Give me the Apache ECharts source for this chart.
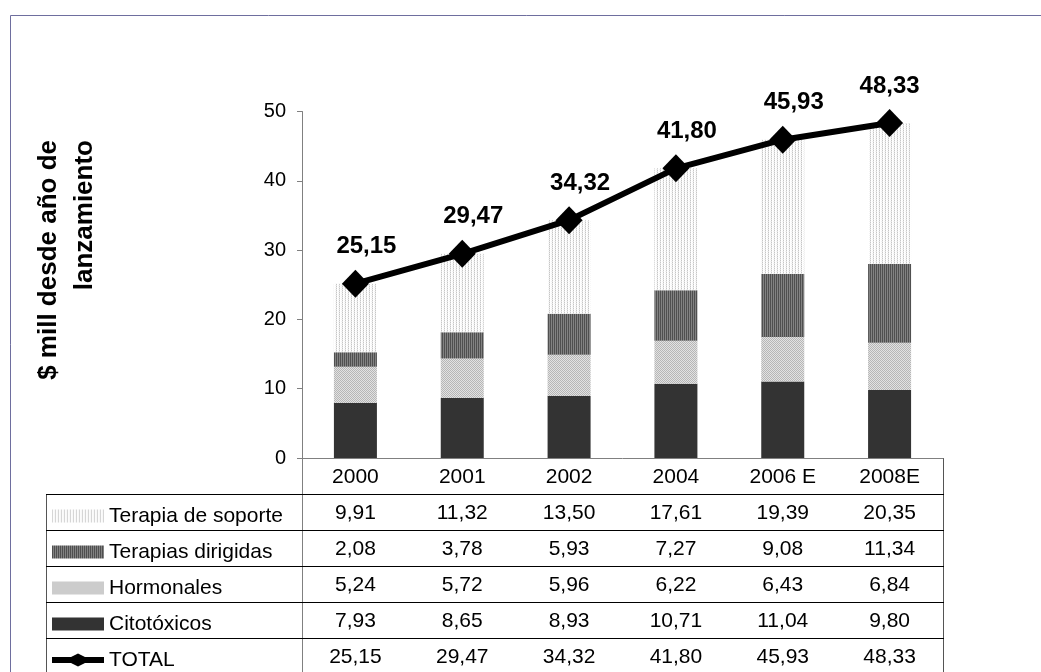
<!DOCTYPE html>
<html><head><meta charset="utf-8">
<script src="https://cdn.jsdelivr.net/npm/echarts@6/dist/echarts.min.js"></script>
<style>html,body{margin:0;padding:0;background:#fff}#c{width:1041px;height:672px}</style>
</head><body><div id="c"></div>
<script>
const categories = ['2000', '2001', '2002', '2004', '2006 E', '2008E'];
const soporte = [9.91, 11.32, 13.50, 17.61, 19.39, 20.35];
const dirigidas = [2.08, 3.78, 5.93, 7.27, 9.08, 11.34];
const hormonales = [5.24, 5.72, 5.96, 6.22, 6.43, 6.84];
const citotoxicos = [7.93, 8.65, 8.93, 10.71, 11.04, 9.80];
const total = [25.15, 29.47, 34.32, 41.80, 45.93, 48.33];
const seriesNames = ['Terapia de soporte', 'Terapias dirigidas', 'Hormonales', 'Citotóxicos', 'TOTAL'];
const yTickLabels = ['0', '10', '20', '30', '40', '50'];

const FONT = 'Liberation Sans, Arial, sans-serif';
const fmt = v => v.toFixed(2).replace('.', ',');

function pattern(w, h, bg, px) {
  const c = document.createElement('canvas');
  c.width = w; c.height = h;
  const g = c.getContext('2d');
  g.fillStyle = bg; g.fillRect(0, 0, w, h);
  px.forEach(p => { g.fillStyle = p[2]; g.fillRect(p[0], p[1], 1, 1); });
  return { image: c, repeat: 'repeat' };
}
const pSoporte = pattern(3, 2, '#ffffff', [[0, 0, '#c6c6c6'], [0, 1, '#e6e6e6'], [2, 1, '#f2f2f2']]);
const pDirigidas = pattern(2, 1, '#4f4f4f', [[1, 0, '#828282']]);
const pHormonales = pattern(2, 2, '#b6b6b6', [[1, 0, '#e2e2e2'], [0, 1, '#e2e2e2']]);
const cCito = '#333333';

const tableRows = [soporte, dirigidas, hormonales, citotoxicos, total];

const gridL = 302, gridR = 98, gridT = 111.5, gridB = 214;
const W = 1041, H = 672;
const axisY = H - gridB, rightX = W - gridR, rowH = 36, legendL = 46;
const TFS = 21;

const chart = echarts.init(document.getElementById('c'), null, { renderer: 'canvas' });

const extraX = tableRows.map((row, i) => ({
  type: 'category', gridIndex: 0, position: 'bottom', data: categories,
  offset: rowH * (i + 1),
  axisLine: { show: false }, axisTick: { show: false },
  axisLabel: { interval: 0, margin: 19, verticalAlign: 'middle', color: '#000',
    fontFamily: FONT, fontSize: TFS, formatter: (v, idx) => fmt(row[idx]) }
}));

const graphics = [
  { type: 'rect', shape: { x: 10.5, y: 15.5, width: 1200, height: 800 },
    style: { fill: 'none', stroke: '#6e6e9e', lineWidth: 1 }, silent: true },
  { type: 'text', x: 31, y: 140, rotation: Math.PI / 2,
    style: { text: '$ mill desde año de\nlanzamiento', font: 'bold 26px ' + FONT,
      fill: '#000', align: 'right', verticalAlign: 'top', lineHeight: 36 } },
  { type: 'line', shape: { x1: gridL + 0.5, y1: axisY, x2: gridL + 0.5, y2: H + 10 }, style: { stroke: '#808080', lineWidth: 1 } },
  { type: 'line', shape: { x1: rightX + 0.5, y1: axisY, x2: rightX + 0.5, y2: H + 10 }, style: { stroke: '#555', lineWidth: 1 } },
  { type: 'line', shape: { x1: legendL + 0.5, y1: axisY + rowH, x2: legendL + 0.5, y2: H + 10 }, style: { stroke: '#555', lineWidth: 1 } }
];
for (let i = 1; i <= 5; i++) {
  const y = axisY + rowH * i + 0.5;
  graphics.push({ type: 'line', shape: { x1: legendL, y1: y, x2: rightX + 1, y2: y }, style: { stroke: '#000', lineWidth: 1 } });
}

const totalData = total.map((v, i) => ({
  value: v,
  label: { offset: [i < total.length - 1 ? 11 : 0, 0] }
}));

const option = {
  animation: false,
  backgroundColor: '#fff',
  grid: { left: gridL, right: gridR, top: gridT, bottom: gridB },
  legend: {
    orient: 'vertical', left: 52, top: axisY + rowH + 10, height: 220,
    itemWidth: 52, itemHeight: 13, itemGap: 12, padding: 0, selectedMode: false,
    textStyle: { fontFamily: FONT, fontSize: TFS, color: '#000', lineHeight: 24 },
    data: [
      { name: seriesNames[0], icon: 'rect' },
      { name: seriesNames[1], icon: 'rect' },
      { name: seriesNames[2], icon: 'rect' },
      { name: seriesNames[3], icon: 'rect' },
      { name: seriesNames[4], icon: 'path://M0,3.5L19,3.5L26,0L33,3.5L52,3.5L52,9.5L33,9.5L26,13L19,9.5L0,9.5Z' }
    ]
  },
  xAxis: [{
    type: 'category', data: categories, position: 'bottom',
    axisLine: { lineStyle: { color: '#808080', width: 1 } },
    axisTick: { show: false },
    axisLabel: { interval: 0, margin: 19, verticalAlign: 'middle', color: '#000', fontFamily: FONT, fontSize: TFS }
  }].concat(extraX),
  yAxis: {
    type: 'value', min: 0, max: 50, interval: 10,
    axisLine: { show: true, lineStyle: { color: '#808080', width: 1 } },
    axisTick: { show: true, length: 5, lineStyle: { color: '#808080' } },
    splitLine: { show: false },
    axisLabel: { margin: 16, color: '#000', fontFamily: FONT, fontSize: 20,
      formatter: v => yTickLabels[Math.round(v / 10)] }
  },
  series: [
    { name: seriesNames[3], type: 'bar', stack: 's', data: citotoxicos, barWidth: 43, itemStyle: { color: cCito } },
    { name: seriesNames[2], type: 'bar', stack: 's', data: hormonales, barWidth: 43, itemStyle: { color: pHormonales } },
    { name: seriesNames[1], type: 'bar', stack: 's', data: dirigidas, barWidth: 43, itemStyle: { color: pDirigidas } },
    { name: seriesNames[0], type: 'bar', stack: 's', data: soporte, barWidth: 43, itemStyle: { color: pSoporte } },
    { name: seriesNames[4], type: 'line', data: totalData, z: 5,
      symbol: 'diamond', symbolSize: [27, 28],
      lineStyle: { color: '#000', width: 6 }, itemStyle: { color: '#000' },
      label: { show: true, position: 'top', distance: 11, formatter: p => fmt(p.value),
        fontFamily: FONT, fontSize: 24, fontWeight: 'bold', color: '#000' } }
  ],
  graphic: graphics
};
chart.setOption(option);
</script></body></html>
